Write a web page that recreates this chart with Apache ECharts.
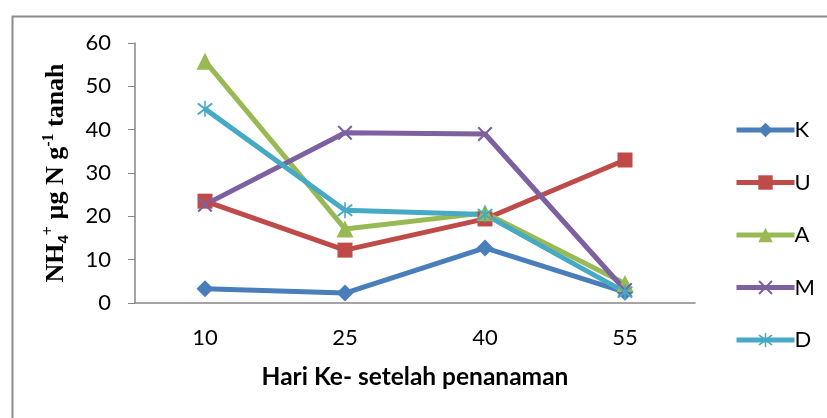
<!DOCTYPE html>
<html>
<head>
<meta charset="utf-8">
<script src="https://cdn.jsdelivr.net/npm/echarts@6/dist/echarts.min.js"></script>
<style>
html,body{margin:0;padding:0;background:#fff;}
#c{width:827px;height:418px;}
</style>
</head>
<body>
<div id="c"></div>
<script>
const categories = ['10', '25', '40', '55'];
const seriesNames = ['K', 'U', 'A', 'M', 'D'];
const K = [3.3, 2.3, 12.7, 2.5];
const U = [23.5, 12.2, 19.4, 33.0];
const A = [55.8, 17.1, 20.8, 4.5];
const M = [22.7, 39.3, 39.0, 3.0];
const D = [44.8, 21.4, 20.4, 2.5];
const yTicks = [0, 10, 20, 30, 40, 50, 60];

const colors = ['#4A7EBB', '#BE4B48', '#98B954', '#7D60A0', '#46AAC5'];
const xPath = 'path://M0,1 L1,0 L10,9 L9,10 Z M9,0 L10,1 L1,10 L0,9 Z';
const starPath = 'path://M0,1 L1,0 L10,9 L9,10 Z M9,0 L10,1 L1,10 L0,9 Z M4.5,-1.5 L5.5,-1.5 L5.5,11.5 L4.5,11.5 Z';
const symbols = ['diamond', 'rect', 'triangle', xPath, starPath];
const sizes = [17, 15, 17, 15, 16];
const data = [K, U, A, M, D];

const chart = echarts.init(document.getElementById('c'));
chart.setOption({
  animation: false,
  color: colors,
  graphic: [{
    type: 'rect', left: 10, top: 14, silent: true,
    shape: {width: 900, height: 500},
    style: {fill: 'none', stroke: '#8c8c8c', lineWidth: 2}
  }],
  grid: {left: 135, right: 132, top: 43, bottom: 115},
  legend: {
    orient: 'vertical', left: 729, top: 114,
    itemWidth: 58, itemHeight: 18, itemGap: 30.5,
    lineStyle: {width: 5},
    textStyle: {fontFamily: 'Lato', fontSize: 22, color: '#000', padding: [0, 0, 0, -5]},
    data: seriesNames
  },
  xAxis: {
    type: 'category', data: categories, boundaryGap: true,
    axisLine: {lineStyle: {color: '#868686', width: 1.5}},
    axisTick: {show: false},
    axisLabel: {fontFamily: 'Lato', fontSize: 22, color: '#000', margin: 24},
    name: 'Hari Ke- setelah penanaman', nameLocation: 'middle', nameGap: 62,
    nameTextStyle: {fontFamily: 'Lato', fontWeight: 'bold', fontSize: 24.5, color: '#000'}
  },
  yAxis: {
    type: 'value', min: 0, max: 60, interval: 10,
    axisLine: {show: true, lineStyle: {color: '#868686', width: 1.5}},
    axisTick: {show: true, inside: false, length: 7, lineStyle: {color: '#868686'}},
    splitLine: {show: false},
    axisLabel: {fontFamily: 'Lato', fontSize: 22, color: '#000', margin: 24,
      formatter: v => yTicks.includes(v) ? String(v) : ''},
    name: '{b|NH}{sub|4}{sup|+}{b| µg N g}{sup|-1}{b| tanah}',
    nameLocation: 'middle', nameRotate: 90, nameGap: 64,
    nameTextStyle: {
      color: '#000',
      rich: {
        b: {fontFamily: 'Liberation Serif', fontWeight: 'bold', fontSize: 26, color: '#000', lineHeight: 30, verticalAlign: 'middle'},
        sub: {fontFamily: 'Liberation Sans', fontWeight: 'bold', fontSize: 15, color: '#000', lineHeight: 30, verticalAlign: 'bottom'},
        sup: {fontFamily: 'Liberation Serif', fontWeight: 'bold', fontSize: 16, color: '#000', lineHeight: 30, verticalAlign: 'top'}
      }
    }
  },
  series: seriesNames.map((n, i) => ({
    name: n, type: 'line', data: data[i],
    symbol: symbols[i], symbolSize: sizes[i], showSymbol: true,
    lineStyle: {width: 5, color: colors[i]},
    itemStyle: {color: colors[i]}
  }))
});
</script>
</body>
</html>
